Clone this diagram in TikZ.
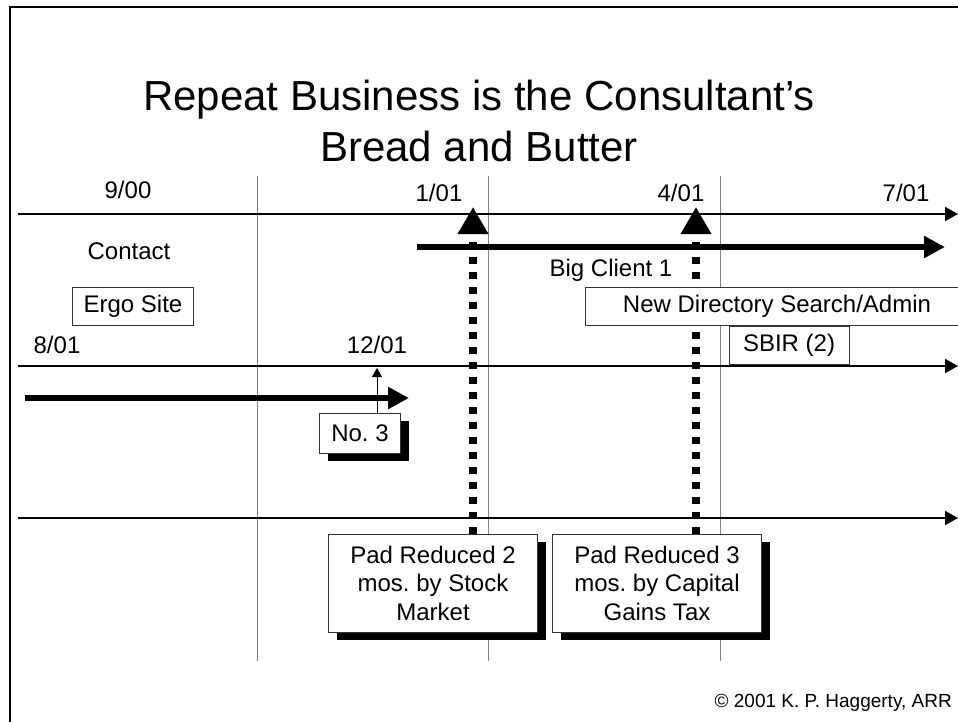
\documentclass[tikz,border=0pt]{standalone}
\usepackage{fontspec}
\setmainfont{Liberation Sans}
\usetikzlibrary{positioning, arrows.meta, shadows, backgrounds}
\frenchspacing

\begin{document}
\begin{tikzpicture}[x=1pt, y=-1pt,
    title/.style={font=\fontsize{42}{51}\selectfont, align=center, inner sep=0pt},
    datelbl/.style={font=\fontsize{24}{28.5}\selectfont, anchor=base, inner sep=0pt},
    tagbox/.style={draw=black!80, fill=white, line width=0.8pt, font=\fontsize{24}{28.5}\selectfont, inner sep=0pt},
    shadowbox/.style={tagbox, drop shadow={shadow xshift=8pt, shadow yshift=-8pt, fill=black, opacity=1}},
    timeline/.style={-{Triangle[length=13pt, width=14pt]}, line width=2pt},
    bigarrow/.style={-{Triangle[length=21pt, width=21pt]}, line width=6pt},
    padline/.style={-{Triangle[length=27pt, width=29pt]}, line width=8pt, dash pattern=on 7pt off 8pt},
    divider/.style={gray, line width=1pt},
    pointer/.style={-{Triangle[length=9pt, width=10pt]}, line width=1pt},
]
    % Page and frame
    \clip (0,0) rectangle (958,721);
    \draw[line width=2pt] (10,7) rectangle (980,740);

    % Title
    \node[title, anchor=base] (title) at (479,161) {Repeat Business is the Consultant's\\Bread and Butter};

    % Dates
    \node[datelbl] (d900) at (128,198) {9/00};
    \node[datelbl] (d101) at (439,201) {1/01};
    \node[datelbl] (d401) at (681,201) {4/01};
    \node[datelbl] (d701) at (906,201) {7/01};
    \node[datelbl] (d801) at (57,353) {8/01};
    \node[datelbl] (d1201) at (377,353) {12/01};

    % Free labels
    \node[datelbl] (contact) at (129,259) {Contact};
    \node[datelbl] (client) at (611,276) {Big Client 1};

    % Boxes
    \node[tagbox, minimum width=121pt, minimum height=38pt] (ergo) at (133,306) {Ergo Site};
    \node[tagbox, minimum width=384pt, minimum height=38pt] (nds) at (777,306) {New Directory Search/Admin};
    \node[tagbox, minimum width=120pt, minimum height=38pt] (sbir) at (789,345) {SBIR (2)};
    \node[shadowbox, minimum width=81pt, minimum height=40pt] (no3) at (360,433) {No. 3};
    \node[shadowbox, minimum width=209pt, minimum height=98pt, align=center] (pad2) at (433,583) {Pad Reduced 2\\mos. by Stock\\Market};
    \node[shadowbox, minimum width=209pt, minimum height=98pt, align=center] (pad3) at (657,583) {Pad Reduced 3\\mos. by Capital\\Gains Tax};

    % Copyright
    \node[font=\fontsize{19}{22}\selectfont, anchor=base east, inner sep=0pt] (copy) at (952,707) {© 2001 K. P. Haggerty, ARR};

    \begin{scope}[on background layer]
        % Quarter dividers
        \foreach \x/\n in {257/a, 488/b, 720/c}
            \draw[divider] (\x,176) coordinate (top\n) -- (\x,661) coordinate (bot\n);

        % Time axes
        \coordinate (r1s) at (18,214);  \coordinate (r1e) at (958,214);
        \coordinate (r2s) at (18,366);  \coordinate (r2e) at (958,366);
        \coordinate (r3s) at (18,518);  \coordinate (r3e) at (958,518);
        \draw[timeline] (r1s) -- (r1e);
        \draw[timeline] (r2s) -- (r2e);
        \draw[timeline] (r3s) -- (r3e);

        % Engagements
        \coordinate (bcs) at (417,247); \coordinate (bce) at (945,247);
        \draw[bigarrow] (bcs) -- (bce);
        \coordinate (n3s) at (25,398);  \coordinate (n3e) at (409,398);
        \draw[bigarrow] (n3s) -- (n3e);

        % Pad reductions
        \coordinate (up2) at (473,207);
        \coordinate (up3) at (696,207);
        \draw[padline] (pad2.north -| up2) -- (up2);
        \draw[padline] (pad3.north -| up3) -- (up3);

        % No. 3 start
        \coordinate (p3) at (377,368);
        \draw[pointer] (no3.north -| p3) -- (p3);
    \end{scope}
\end{tikzpicture}
\end{document}
